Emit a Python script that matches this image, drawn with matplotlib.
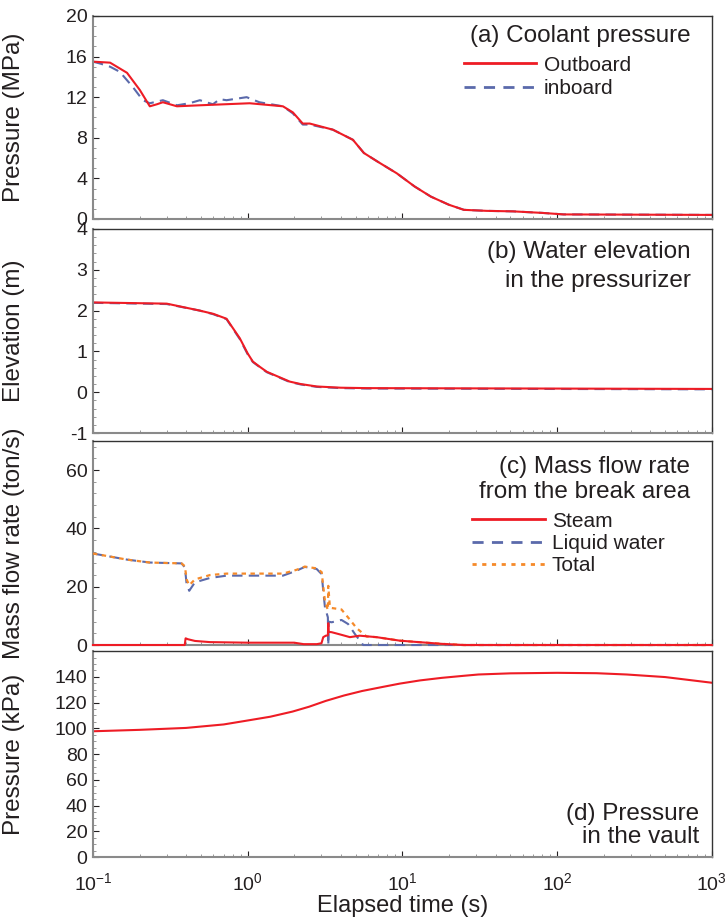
"""Four-panel transient of a coolant break: pressure, pressurizer level, break flow, vault pressure."""

import matplotlib

matplotlib.use("Agg")
import matplotlib.pyplot as plt
from matplotlib.lines import Line2D
from matplotlib.ticker import AutoMinorLocator, FixedLocator, LogLocator, NullFormatter

# (a) coolant pressure, MPa
t_out = [0.1, 0.129, 0.166, 0.201, 0.233, 0.259, 0.283, 0.349, 0.491, 1.03, 1.69, 1.96,
         2.27, 2.52, 3.55, 4.79, 5.64, 7.0, 9.2, 12.0, 15.3, 20.0, 25.0, 35.0, 52.0, 80.0,
         110.0, 1000.0]
p_out = [15.5, 15.4, 14.4, 12.7, 11.1, 11.3, 11.5, 11.1, 11.2, 11.4, 11.1, 10.5,
         9.4, 9.4, 8.8, 7.8, 6.5, 5.6, 4.5, 3.2, 2.2, 1.4, 0.9, 0.8, 0.75, 0.6,
         0.45, 0.4]
t_in = [0.1, 0.112, 0.129, 0.149, 0.181, 0.21, 0.233, 0.283, 0.349, 0.42, 0.491, 0.596,
        0.66, 0.73, 0.985, 1.19, 1.69, 1.96, 2.27, 2.52, 3.55, 4.79, 5.64, 7.0, 9.2,
        12.0, 15.3, 20.0, 25.0, 35.0, 52.0, 80.0, 110.0, 1000.0]
p_in = [15.5, 15.3, 15.0, 14.5, 13.0, 11.7, 11.4, 11.7, 11.2, 11.4, 11.7, 11.3,
        11.8, 11.7, 12.0, 11.5, 11.1, 10.4, 9.3, 9.3, 8.8, 7.8, 6.5, 5.6, 4.5,
        3.2, 2.2, 1.4, 0.9, 0.8, 0.75, 0.6, 0.45, 0.4]

# (b) pressurizer water elevation, m
t_el = [0.1, 0.3, 0.49, 0.6, 0.73, 0.89, 1.0, 1.08, 1.2, 1.33, 1.87, 2.2, 2.8, 4.0, 5.9, 1000.0]
el_out = [2.2, 2.17, 2.0, 1.92, 1.8, 1.32, 0.95, 0.75, 0.62, 0.5, 0.26, 0.2, 0.14, 0.11, 0.1, 0.08]
el_in = [2.19, 2.16, 2.0, 1.91, 1.79, 1.3, 0.93, 0.74, 0.61, 0.49, 0.25, 0.19, 0.13, 0.1, 0.09, 0.07]

# (c) mass flow rate from the break, ton/s
t_st = [0.1, 0.392, 0.397, 0.41, 0.456, 0.57, 1.0, 2.0, 2.3, 2.8, 3.0, 3.08, 3.2, 3.30,
        3.32, 3.34, 3.49, 4.04, 4.58, 5.3, 6.81, 9.6, 12.0, 18.0, 25.0, 1000.0]
steam = [0.0, 0.0, 2.3, 2.0, 1.4, 1.0, 0.8, 0.8, 0.3, 0.3, 0.6, 2.7, 3.2, 3.3,
         7.5, 4.5, 4.4, 3.5, 2.7, 3.2, 2.7, 1.5, 1.1, 0.4, 0.0, 0.0]
t_liq = [0.1, 0.166, 0.233, 0.374, 0.393, 0.403, 0.419, 0.456, 0.57, 0.731, 1.03, 1.69,
         2.07, 2.34, 2.79, 3.01, 3.08, 3.16, 3.30, 3.32, 3.34, 3.49, 4.04, 4.46, 4.93,
         5.58, 1000.0]
liquid = [31.4, 29.3, 28.3, 28.0, 26.6, 20.9, 18.6, 21.5, 23.0, 23.8, 23.8, 23.8,
          25.5, 26.8, 26.1, 24.3, 18.6, 12.9, 9.5, 0.0, 8.0, 7.8, 8.6, 7.2, 3.8,
          0.0, 0.0]
t_tot = [0.1, 0.166, 0.233, 0.374, 0.393, 0.403, 0.419, 0.456, 0.57, 0.731, 1.03, 1.69,
         2.07, 2.34, 2.79, 3.01, 3.08, 3.16, 3.30, 3.32, 3.40, 3.49, 4.04, 4.58, 5.06,
         5.87, 6.81, 9.6, 12.0, 18.0, 25.0, 1000.0]
total = [31.4, 29.3, 28.3, 28.0, 27.0, 22.5, 20.5, 22.5, 24.0, 24.5, 24.5, 24.5,
         25.8, 26.9, 26.3, 25.0, 20.0, 15.0, 12.0, 20.3, 13.0, 12.7, 12.2, 8.7, 5.8,
         2.9, 2.7, 1.5, 1.1, 0.4, 0.0, 0.0]

# (d) pressure in the vault, kPa
t_vault = [0.1, 0.2, 0.4, 0.7, 0.98, 1.4, 1.95, 2.5, 3.2, 4.2, 5.5, 7.5, 9.6, 13.0, 18.0,
           25.0, 31.0, 50.0, 100.0, 180.0, 282.0, 500.0, 1000.0]
p_vault = [97.7, 98.8, 100.3, 103.0, 105.9, 109.0, 113.0, 116.8, 121.3, 125.5, 129.0,
           132.2, 134.7, 137.2, 139.2, 140.8, 141.8, 142.7, 143.1, 142.8, 141.8, 139.8, 135.4]

RED = "#EE1C25"
BLUE = "#5B6AAB"
ORANGE = "#F58A2A"
INK = "#231F20"
NOTE_SIZE = 17.5

plt.rcParams.update({
    "font.family": ["Liberation Sans", "DejaVu Sans"],
    "mathtext.fontset": "custom",
    "mathtext.rm": "Liberation Sans",
    "axes.unicode_minus": False,
    "font.size": 14,
    "text.color": INK,
    "axes.labelcolor": INK,
    "xtick.color": INK,
    "ytick.color": INK,
})

fig = plt.figure(figsize=(7.28, 9.17), dpi=100)
left, width = 0.1277, 0.850
boxes = [
    (0.7612, 0.2214),
    (0.5278, 0.2225),
    (0.2966, 0.2225),
    (0.0654, 0.2246),
]
axes = [fig.add_axes((left, b, width, h)) for b, h in boxes]

for ax in axes:
    ax.set_xscale("log")
    ax.set_xlim(0.1, 1000)
    ax.xaxis.set_major_locator(LogLocator(base=10, numticks=10))
    ax.xaxis.set_minor_locator(LogLocator(base=10, subs=range(2, 10), numticks=20))
    ax.xaxis.set_minor_formatter(NullFormatter())
    ax.tick_params(which="both", direction="in", top=False, right=False)
    ax.tick_params(which="major", length=4, width=0.8, labelsize=14, pad=4)
    ax.tick_params(axis="x", which="major", pad=11)
    ax.tick_params(which="minor", length=2, width=0.6, colors="#888888")
    for side in ("top", "right"):
        ax.spines[side].set_color("#333333")
        ax.spines[side].set_linewidth(1.0)
    for side in ("left", "bottom"):
        ax.spines[side].set_color("#8A8A8A")
        ax.spines[side].set_linewidth(1.5)
    ax.yaxis.set_label_coords(-0.11, 0.5)
for ax in axes[:-1]:
    ax.tick_params(axis="x", which="both", labelbottom=False)


def note(ax, x, lines, ys, **kw):
    for text, y in zip(lines, ys):
        ax.text(x, y, text, transform=ax.transAxes, ha="right", va="baseline",
                fontsize=NOTE_SIZE, **kw)


# (a)
ax = axes[0]
ax.plot(t_in, p_in, color=BLUE, lw=1.5, dashes=(5, 3))
ax.plot(t_out, p_out, color=RED, lw=1.5)
ax.set_ylim(0, 20)
ax.yaxis.set_major_locator(FixedLocator([0, 4, 8, 12, 16, 20]))
ax.yaxis.set_minor_locator(AutoMinorLocator(4))
ax.set_ylabel("Pressure (MPa)", fontsize=17.5)
note(ax, 0.966, ["(a) Coolant pressure"], [0.873])
handles = [
    Line2D([0], [0], color=RED, lw=2, label="Outboard"),
    Line2D([0], [0], color=BLUE, lw=2, dashes=(4, 3), label="inboard"),
]
ax.legend(handles=handles, loc="upper left", bbox_to_anchor=(0.599, 0.804), frameon=False,
          fontsize=15, handlelength=3.45, handletextpad=0.4, borderpad=0,
          borderaxespad=0, labelspacing=0.22)

# (b)
ax = axes[1]
ax.plot(t_el, el_in, color=BLUE, lw=1.5, dashes=(5, 3))
ax.plot(t_el, el_out, color=RED, lw=1.5)
ax.set_ylim(-1, 4)
ax.yaxis.set_major_locator(FixedLocator([-1, 0, 1, 2, 3, 4]))
ax.yaxis.set_minor_locator(AutoMinorLocator(5))
ax.set_ylabel("Elevation (m)", fontsize=17.5)
note(ax, 0.966, ["(b) Water elevation", "in the pressurizer"], [0.858, 0.716])

# (c)
ax = axes[2]
ax.plot(t_liq, liquid, color=BLUE, lw=1.5, dashes=(5, 3), clip_on=False, zorder=3)
ax.plot(t_tot, total, color=ORANGE, lw=1.6, dashes=(2, 2), clip_on=False, zorder=3)
ax.plot(t_st, steam, color=RED, lw=1.5, clip_on=False, zorder=3)
ax.set_ylim(0, 70)
ax.yaxis.set_major_locator(FixedLocator([0, 20, 40, 60]))
ax.yaxis.set_minor_locator(AutoMinorLocator(5))
ax.set_ylabel("Mass flow rate (ton/s)", fontsize=17.5)
note(ax, 0.965, ["(c) Mass flow rate", "from the break area"], [0.842, 0.719])
handles = [
    Line2D([0], [0], color=RED, lw=2, label="Steam"),
    Line2D([0], [0], color=BLUE, lw=2, dashes=(4, 3), label="Liquid water"),
    Line2D([0], [0], color=ORANGE, lw=2, dashes=(1.5, 2), label="Total"),
]
ax.legend(handles=handles, loc="upper left", bbox_to_anchor=(0.612, 0.653), frameon=False,
          fontsize=15, handlelength=3.5, handletextpad=0.35, borderpad=0,
          borderaxespad=0, labelspacing=0.16)

# (d)
ax = axes[3]
ax.plot(t_vault, p_vault, color=RED, lw=1.5)
ax.set_ylim(0, 160)
ax.yaxis.set_major_locator(FixedLocator(list(range(0, 141, 20))))
ax.yaxis.set_minor_locator(AutoMinorLocator(4))
ax.set_ylabel("Pressure (kPa)", fontsize=17.5)
note(ax, 0.979, ["(d) Pressure", "in the vault"], [0.180, 0.068])
ax.set_xlabel("Elapsed time (s)", fontsize=17, labelpad=0.5)

fig.savefig("out.png", dpi=100, facecolor="white")
plt.close(fig)
